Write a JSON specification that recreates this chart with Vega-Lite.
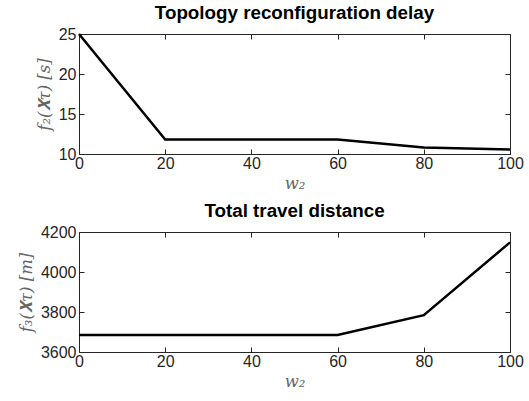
{
  "$schema": "https://vega.github.io/schema/vega-lite/v6.json",
  "background": "white",
  "padding": {"left": 17, "top": 3, "right": 10, "bottom": 5},
  "spacing": 9,
  "config": {
    "view": {"stroke": "#262626", "strokeWidth": 1},
    "font": "Liberation Sans",
    "title": {"fontSize": 18.8, "fontWeight": "bold", "color": "black", "offset": 3},
    "axis": {
      "grid": false,
      "domain": false,
      "tickSize": -5,
      "tickColor": "#262626",
      "labelFont": "Liberation Sans",
      "labelFontSize": 16,
      "labelColor": "#262626",
      "labelFlush": false,
      "labelOverlap": false,
      "format": "d",
      "titleFont": "DejaVu Serif",
      "titleFontStyle": "italic",
      "titleFontWeight": "normal",
      "titleFontSize": 16.5,
      "titleColor": "#666666"
    },
    "axisX": {"labelPadding": 6},
    "axisY": {"labelPadding": 8}
  },
  "datasets": {
    "delay": [
      {"w2": 0, "f": 25},
      {"w2": 20, "f": 11.8},
      {"w2": 40, "f": 11.8},
      {"w2": 60, "f": 11.8},
      {"w2": 80, "f": 10.8},
      {"w2": 100, "f": 10.55}
    ],
    "dist": [
      {"w2": 0, "f": 3685},
      {"w2": 20, "f": 3685},
      {"w2": 40, "f": 3685},
      {"w2": 60, "f": 3685},
      {"w2": 80, "f": 3784},
      {"w2": 100, "f": 4148}
    ]
  },
  "vconcat": [
    {
      "title": "Topology reconfiguration delay",
      "width": 431,
      "height": 120,
      "data": {"name": "delay"},
      "layer": [
        {
          "mark": {"type": "line", "color": "black", "strokeWidth": 2.5},
          "encoding": {
            "x": {"field": "w2", "type": "quantitative", "scale": {"domain": [0, 100], "nice": false},
                  "axis": {"values": [0, 20, 40, 60, 80, 100], "title": "w₂", "titlePadding": 4}},
            "y": {"field": "f", "type": "quantitative", "scale": {"domain": [10, 25], "nice": false, "zero": false},
                  "axis": {"values": [10, 15, 20, 25], "title": "f₂(𝐗τ) [s]", "titlePadding": 6}}
          }
        },
        {
          "mark": {"type": "line", "opacity": 0},
          "encoding": {
            "x": {"field": "w2", "type": "quantitative", "axis": {"orient": "top", "values": [0, 20, 40, 60, 80, 100], "labels": false, "title": null}},
            "y": {"field": "f", "type": "quantitative", "axis": {"orient": "right", "values": [10, 15, 20, 25], "labels": false, "title": null}}
          }
        }
      ],
      "resolve": {"axis": {"x": "independent", "y": "independent"}}
    },
    {
      "title": "Total travel distance",
      "width": 431,
      "height": 120,
      "data": {"name": "dist"},
      "layer": [
        {
          "mark": {"type": "line", "color": "black", "strokeWidth": 2.5},
          "encoding": {
            "x": {"field": "w2", "type": "quantitative", "scale": {"domain": [0, 100], "nice": false},
                  "axis": {"values": [0, 20, 40, 60, 80, 100], "title": "w₂", "titlePadding": 4}},
            "y": {"field": "f", "type": "quantitative", "scale": {"domain": [3600, 4200], "nice": false, "zero": false},
                  "axis": {"values": [3600, 3800, 4000, 4200], "title": "f₃(𝐗τ) [m]", "titlePadding": 6}}
          }
        },
        {
          "mark": {"type": "line", "opacity": 0},
          "encoding": {
            "x": {"field": "w2", "type": "quantitative", "axis": {"orient": "top", "values": [0, 20, 40, 60, 80, 100], "labels": false, "title": null}},
            "y": {"field": "f", "type": "quantitative", "axis": {"orient": "right", "values": [3600, 3800, 4000, 4200], "labels": false, "title": null}}
          }
        }
      ],
      "resolve": {"axis": {"x": "independent", "y": "independent"}}
    }
  ]
}
